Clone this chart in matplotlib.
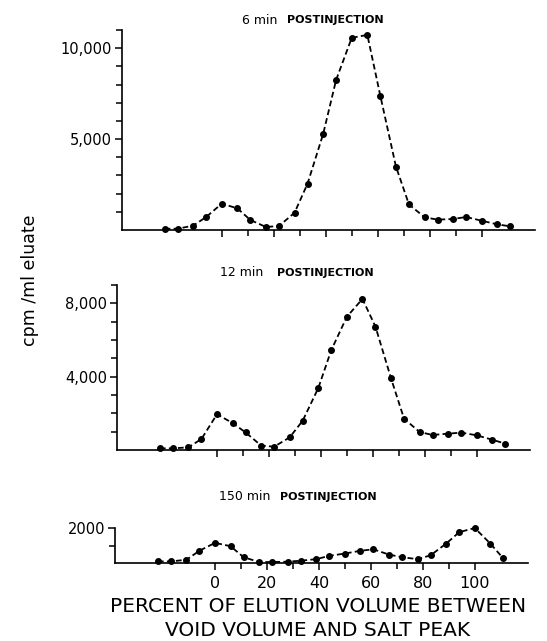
"""
Elution profiles of radioactivity at 6, 12 and 150 min postinjection.
Output: out.png
"""
import matplotlib
matplotlib.use("Agg")
import matplotlib.pyplot as plt
from matplotlib.ticker import FixedLocator, FuncFormatter

# Data
elution_pct = [-22, -17, -11, -6, 0, 6, 11, 17, 22, 28, 33, 39, 44, 50, 56,
               61, 67, 72, 78, 83, 89, 94, 100, 106, 111]

cpm_6min = [70, 70, 240, 715, 1450, 1190, 550, 165, 220, 950, 2550, 5280, 8260,
            10570, 10730, 7380, 3490, 1410, 700, 570, 605, 715, 510, 310, 200]
cpm_12min = [90, 90, 145, 600, 1950, 1470, 960, 240, 180, 690, 1600, 3380, 5450,
             7270, 8240, 6730, 3910, 1710, 980, 820, 890, 950, 800, 560, 345]
cpm_150min = [90, 90, 185, 700, 1150, 960, 330, 55, 55, 75, 130, 220, 410,
              540, 700, 780, 480, 330, 220, 440, 1110, 1760, 2000, 1110, 260]

panel_times = ["6 min", "12 min", "150 min"]
y_major = [[5000, 10000], [4000, 8000], [2000]]
y_top = [11000, 9000, 2000]
x_labels = [0, 20, 40, 60, 80, 100]
x_minor = [10, 30, 50, 70, 90]

W, H = 547, 641
fig = plt.figure(figsize=(W / 100, H / 100), dpi=100)

# panel boxes in pixels: left, right, top, bottom
boxes = [(121.7, 535, 30, 230), (117, 530, 285, 450), (115, 528, 528, 563)]
# title pieces: end of "N min", start of POSTINJECTION, y centre
title_pos = [(277, 287, 20), (263, 277, 273), (270, 280, 497)]

series = [cpm_6min, cpm_12min, cpm_150min]


def fmt_comma(v, pos):
    return f"{int(v):,}"


for i, (l, r, t, b) in enumerate(boxes):
    ax = fig.add_axes([l / W, 1 - b / H, (r - l) / W, (b - t) / H])
    ax.plot(elution_pct, series[i], color="black", linestyle=(0, (3.2, 1.8)),
            linewidth=1.3, marker="o", markersize=4, clip_on=False)
    ax.set_xlim(-38.5, 120.5)
    ax.set_ylim(0, y_top[i])

    for s in ["top", "right"]:
        ax.spines[s].set_visible(False)
    for s in ["left", "bottom"]:
        ax.spines[s].set_linewidth(1.2)

    ax.yaxis.set_major_locator(FixedLocator(y_major[i]))
    ax.yaxis.set_minor_locator(FixedLocator([v for v in range(1000, y_top[i] + 1, 1000)
                                             if v not in y_major[i]]))
    if i < 2:
        ax.yaxis.set_major_formatter(FuncFormatter(fmt_comma))
    else:
        ax.yaxis.set_major_formatter(FuncFormatter(lambda v, p: f"{int(v)}"))
    ax.xaxis.set_major_locator(FixedLocator(x_labels))
    ax.xaxis.set_minor_locator(FixedLocator(x_minor))
    ax.tick_params(axis="both", which="major", direction="out", length=5, width=1.1,
                   labelsize=10.5, pad=2)
    ax.tick_params(axis="both", which="minor", direction="out", length=4, width=1.1)
    ax.tick_params(axis="x", which="major", labelsize=11.5, pad=4)
    if i < 2:
        ax.tick_params(axis="x", labelbottom=False)

    te, ps, ty = title_pos[i]
    fig.text(te / W, 1 - ty / H, panel_times[i], ha="right", va="center", fontsize=9)
    fig.text(ps / W, 1 - ty / H, "POSTINJECTION", ha="left", va="center",
             fontsize=8, fontweight="bold")

fig.text(30 / W, 1 - 280 / H, "cpm /ml eluate", rotation=90, ha="center",
         va="center", fontsize=12.5)
fig.text(318 / W, 1 - 606 / H, "PERCENT OF ELUTION VOLUME BETWEEN", ha="center",
         va="center", fontsize=14.5)
fig.text(318 / W, 1 - 631 / H, "VOID VOLUME AND SALT PEAK", ha="center",
         va="center", fontsize=14.5)

fig.savefig("out.png", dpi=100)
